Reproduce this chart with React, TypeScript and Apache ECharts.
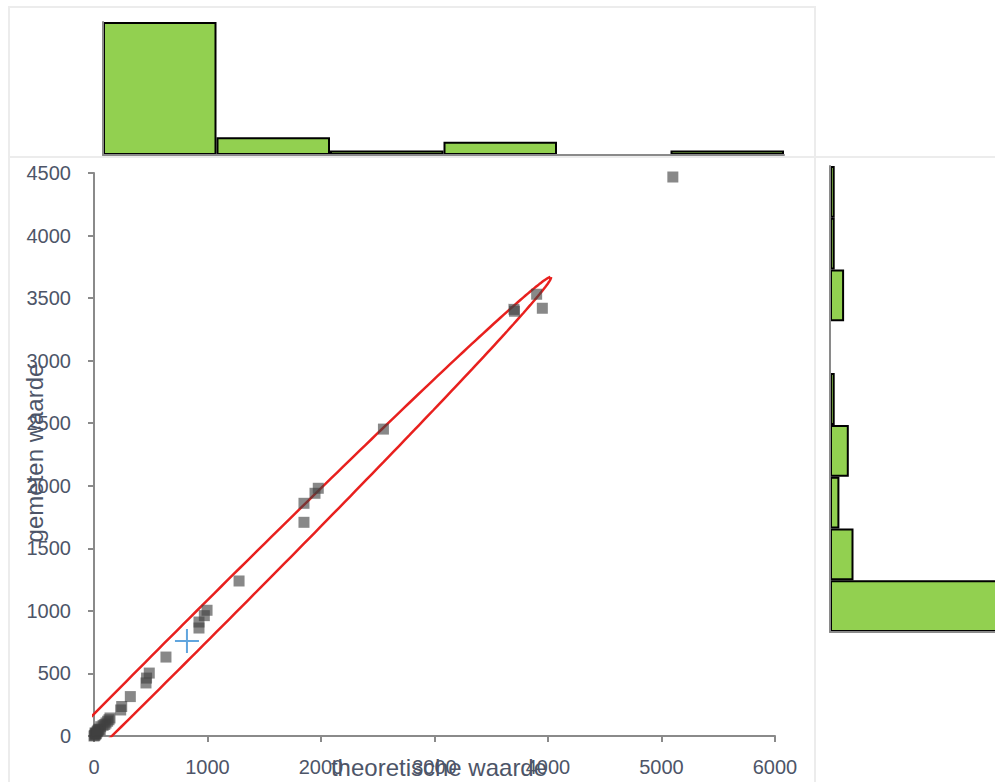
import React, { useEffect, useRef } from "react";
import * as echarts from "echarts";

// ---- data ----
const xTicksMax = 6000;
const yTicksMax = 4500;

// scatter points: [theoretische waarde, gemeten waarde]
const pointsX = [5100, 3900, 3700, 3705, 3950, 2550, 1850, 1850, 1947, 1976, 1278, 996, 972, 925, 925, 634, 487, 463, 458, 320, 244, 235, 141, 132, 106, 80, 59, 45, 38, 26, 20, 12, 9, 5, 0, 15, 30, 55, 95, 120];
const pointsY = [4468, 3531, 3410, 3395, 3419, 2453, 1860, 1708, 1940, 1980, 1239, 1005, 962, 911, 863, 631, 503, 463, 424, 315, 236, 208, 144, 130, 104, 85, 74, 55, 48, 32, 18, 10, 24, 5, 0, 22, 40, 50, 92, 118];

const meanPoint = [819, 759];

// ellipse parameters (data units): centre, semi-major vector, semi-minor vector
const ellipseCenter = [819, 759];
const ellipseMajor = [3207, 2909];
const ellipseMinor = [90, -82];

// top histogram (theoretische waarde) counts per bin
const topBins = ["b1", "b2", "b3", "b4", "b5", "b6"];
const topCounts = [30, 4, 1, 3, 0, 1];

// right histogram (gemeten waarde) counts per bin, top to bottom
const rightBins = ["r1", "r2", "r3", "r4", "r5", "r6", "r7", "r8", "r9"];
const rightCounts = [1, 1, 3, 0, 1, 4, 2, 5, 42];

const FONT = "'Liberation Sans', Arial, sans-serif";
const LABEL = "#4d5568";
const AXIS = "#8a8a8a";
const GREEN = "#92D050";
const PANEL = "#ececec";

function ellipsePoints(): number[][] {
  const pts: number[][] = [];
  for (let i = 0; i <= 360; i++) {
    const t = (i / 360) * Math.PI * 2;
    const c = Math.cos(t);
    const s = Math.sin(t);
    pts.push([
      ellipseCenter[0] + c * ellipseMajor[0] + s * ellipseMinor[0],
      ellipseCenter[1] + c * ellipseMajor[1] + s * ellipseMinor[1],
    ]);
  }
  return pts;
}

const plain = (v: number) => String(v);

export default function App() {
  const ref = useRef<HTMLDivElement>(null);
  useEffect(() => {
    if (!ref.current) return;
    const chart = echarts.init(ref.current, undefined, { renderer: "svg" });
    const hidden = { show: false };
    const option: any = {
      animation: false,
      backgroundColor: "#ffffff",
      grid: [
        { left: 94, top: 173, width: 681, height: 563 },
        { left: 103, top: 22, width: 681, height: 133 },
        { left: 830, top: 166, width: 188, height: 466 },
      ],
      xAxis: [
        {
          gridIndex: 0,
          type: "value",
          min: 0,
          max: xTicksMax,
          interval: 1000,
          axisLine: { show: true, lineStyle: { color: AXIS, width: 2 } },
          axisTick: { show: true, length: 6, lineStyle: { color: AXIS, width: 2 } },
          axisLabel: { fontSize: 20, color: LABEL, margin: 21, fontFamily: FONT, formatter: plain },
          splitLine: hidden,
        },
        {
          gridIndex: 1,
          type: "category",
          data: topBins,
          z: 5,
          axisLine: { show: true, lineStyle: { color: AXIS, width: 2 } },
          axisTick: hidden,
          axisLabel: hidden,
          splitLine: hidden,
        },
        {
          gridIndex: 2,
          type: "value",
          min: 0,
          max: 40,
          z: 5,
          axisLine: { show: true, onZero: false, lineStyle: { color: AXIS, width: 2 } },
          axisTick: hidden,
          axisLabel: hidden,
          splitLine: hidden,
        },
      ],
      yAxis: [
        {
          gridIndex: 0,
          type: "value",
          min: 0,
          max: yTicksMax,
          interval: 500,
          axisLine: { show: true, lineStyle: { color: AXIS, width: 2 } },
          axisTick: { show: true, length: 6, lineStyle: { color: AXIS, width: 2 } },
          axisLabel: { fontSize: 20, color: LABEL, margin: 23, fontFamily: FONT, formatter: plain },
          splitLine: hidden,
        },
        {
          gridIndex: 1,
          type: "value",
          min: 0,
          max: 30,
          z: 5,
          axisLine: { show: true, onZero: false, lineStyle: { color: AXIS, width: 2 } },
          axisTick: hidden,
          axisLabel: hidden,
          splitLine: hidden,
        },
        {
          gridIndex: 2,
          type: "category",
          data: rightBins,
          inverse: true,
          z: 5,
          axisLine: { show: true, lineStyle: { color: AXIS, width: 2 } },
          axisTick: hidden,
          axisLabel: hidden,
          splitLine: hidden,
        },
      ],
      series: [
        {
          type: "line",
          xAxisIndex: 0,
          yAxisIndex: 0,
          data: ellipsePoints(),
          showSymbol: false,
          symbol: "none",
          clip: true,
          smooth: false,
          lineStyle: { color: "#e8201e", width: 2.5 },
          z: 2,
        },
        {
          type: "scatter",
          xAxisIndex: 0,
          yAxisIndex: 0,
          data: pointsX.map((x, i) => [x, pointsY[i]]),
          symbol: "rect",
          symbolSize: 11,
          itemStyle: { color: "rgba(64,64,64,0.78)" },
          z: 3,
        },
        {
          type: "scatter",
          xAxisIndex: 0,
          yAxisIndex: 0,
          data: [meanPoint],
          symbol: "path://M11,0h2v24h-2zM0,11h24v2h-24z",
          symbolSize: 24,
          itemStyle: { color: "#3a8fd6" },
          z: 4,
        },
        {
          type: "bar",
          xAxisIndex: 1,
          yAxisIndex: 1,
          barCategoryGap: "0%",
          data: topCounts.map((v) => ({
            value: v,
            itemStyle: v === 0 ? { borderWidth: 0 } : undefined,
          })),
          itemStyle: { color: GREEN, borderColor: "#000000", borderWidth: 2 },
        },
        {
          type: "bar",
          xAxisIndex: 2,
          yAxisIndex: 2,
          barCategoryGap: "0%",
          clip: true,
          data: rightCounts.map((v) => ({
            value: v,
            itemStyle: v === 0 ? { borderWidth: 0 } : undefined,
          })),
          itemStyle: { color: GREEN, borderColor: "#000000", borderWidth: 2 },
        },
      ],
      graphic: [
        {
          type: "rect",
          shape: { x: 9, y: 7, width: 806, height: 150 },
          style: { fill: "none", stroke: PANEL, lineWidth: 2 },
          silent: true,
          z: -1,
        },
        {
          type: "rect",
          shape: { x: 9, y: 157, width: 806, height: 640 },
          style: { fill: "none", stroke: PANEL, lineWidth: 2 },
          silent: true,
          z: -1,
        },
        {
          type: "rect",
          shape: { x: 815, y: 157, width: 220, height: 640 },
          style: { fill: "none", stroke: PANEL, lineWidth: 2 },
          silent: true,
          z: -1,
        },
        {
          type: "text",
          x: 439,
          y: 767,
          style: {
            text: "theoretische waarde",
            fontSize: 24,
            fontFamily: FONT,
            fill: LABEL,
            align: "center",
            verticalAlign: "middle",
          },
          z: 10,
        },
        {
          type: "text",
          x: 34,
          y: 453,
          rotation: Math.PI / 2,
          style: {
            text: "gemeten waarde",
            fontSize: 24,
            fontFamily: FONT,
            fill: LABEL,
            align: "center",
            verticalAlign: "middle",
          },
          z: 10,
        },
      ],
    };
    chart.setOption(option);
    return () => chart.dispose();
  }, []);
  return (
    <div
      style={{ position: "absolute", left: 0, top: 0, width: 995, height: 782, overflow: "hidden", background: "#fff" }}
    >
      <div ref={ref} style={{ width: 1030, height: 782 }} />
    </div>
  );
}
